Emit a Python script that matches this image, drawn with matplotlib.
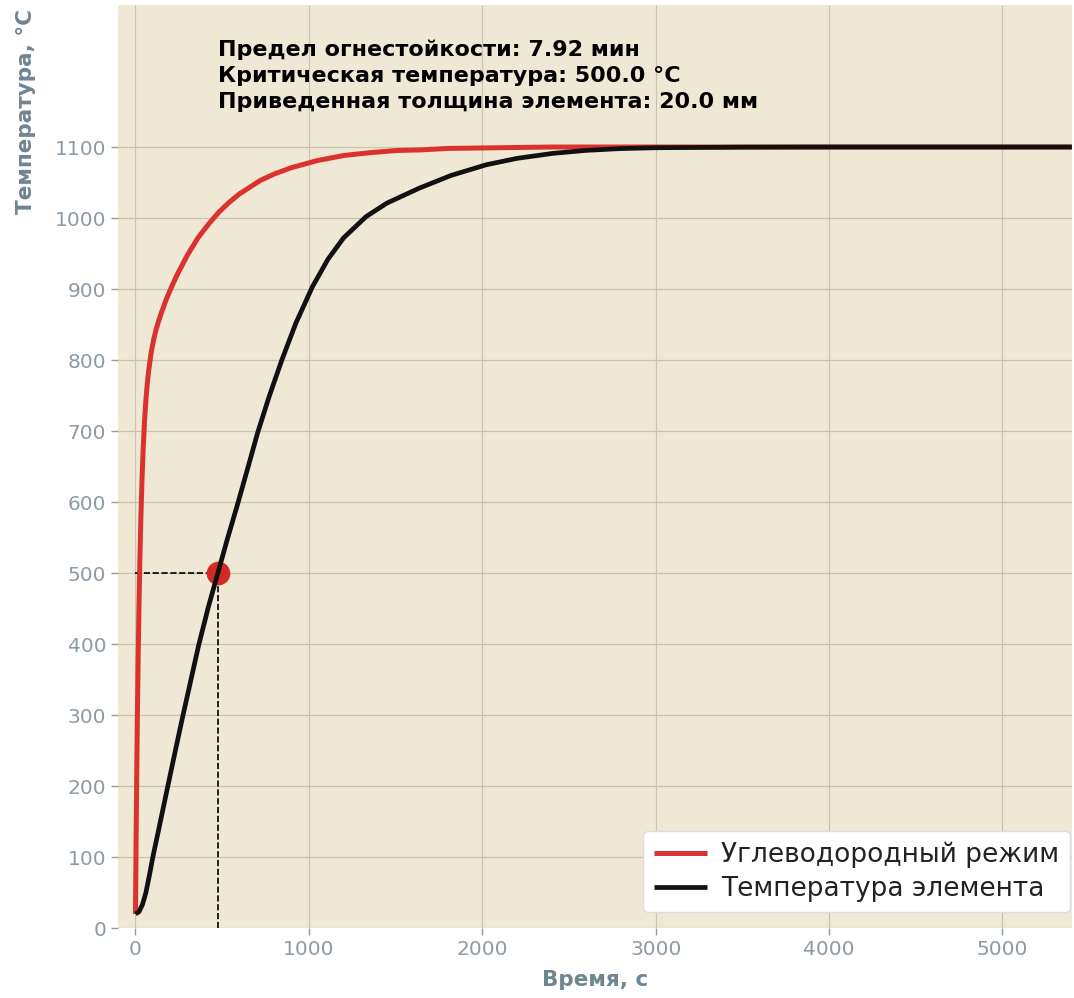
import matplotlib
matplotlib.use("Agg")
import matplotlib.pyplot as plt

# углеводородный режим пожара, время (с) и температура газа (°C)
t_fire = [0, 2.5, 5, 7.5, 10, 12.5, 15, 20, 25, 30, 37.5, 45, 52.5, 60, 67.5, 75, 90, 105,
          120, 135, 150, 180, 210, 240, 270, 300, 360, 420, 480, 540, 600, 720, 800, 900,
          1050, 1200, 1350, 1500, 1650, 1800, 2100, 2400, 3600, 5400]
T_fire = [20, 94, 162, 223, 278, 328, 373, 451, 515, 568, 631, 679, 715, 743, 765, 783, 810, 829,
          844, 856, 867, 887, 904, 920, 934, 948, 972, 991, 1008, 1022, 1034, 1053, 1062, 1071,
          1081, 1088, 1092, 1095, 1096, 1098, 1099, 1100, 1100, 1100]

# прогрев элемента
t_el = [0, 20, 40, 60, 80, 100, 140, 184, 230, 267, 320, 364, 420, 475, 530, 590, 650, 705,
        770, 844, 925, 1020, 1110, 1200, 1330, 1450, 1636, 1820, 2023, 2200, 2405, 2600,
        2800, 3000, 3500, 4000, 5400]
T_el = [20, 23, 33, 50, 74, 100, 146, 197, 250, 292, 350, 398, 452, 500, 548, 598, 650, 698,
        748, 800, 852, 903, 942, 972, 1002, 1021, 1042, 1060, 1075, 1084, 1091, 1095.3,
        1097.8, 1099, 1099.8, 1100, 1100]

t_limit = 475.2       # с
T_crit = 500.0        # °C
thickness = 20.0      # мм

plt.style.use('Solarize_Light2')
plt.rcParams['font.family'] = ['DejaVu Sans']

fig = plt.figure(figsize=(10.74, 9.98), dpi=100, facecolor='white')
ax = fig.add_axes([0.110, 0.070, 0.888, 0.925])
ax.set_facecolor('#eee8d5')

ax.plot(t_limit, T_crit, 'o', color='#d42a24', markersize=16, zorder=3)
ax.plot(t_fire, T_fire, color='#dc322f', linewidth=3.6, label='Углеводородный режим', zorder=4)
ax.plot(t_el, T_el, color='#111111', linewidth=3.4, label='Температура элемента', zorder=5)

# пунктир до критической точки
ax.plot([0, t_limit], [T_crit, T_crit], '--', color='black', linewidth=1.2, zorder=2)
ax.plot([t_limit, t_limit], [0, T_crit], '--', color='black', linewidth=1.2, zorder=2)

ax.text(t_limit, 1150,
        f"Предел огнестойкости: {t_limit / 60:.2f} мин\n"
        f"Критическая температура: {T_crit:.1f} °C\n"
        f"Приведенная толщина элемента: {thickness:.1f} мм",
        fontsize=16, fontweight='bold', color='black', ha='left', va='bottom',
        linespacing=1.36)

ax.set_xlim(-100, 5400)
ax.set_ylim(0, 1300)
ax.set_xticks([0, 1000, 2000, 3000, 4000, 5000])
ax.set_yticks(range(0, 1101, 100))
ax.grid(True, color='#c9c3b1', linewidth=0.9)
for s in ax.spines.values():
    s.set_visible(False)

ax.tick_params(axis='both', colors='#8d9ba4', labelsize=14.5, length=5, width=1)
ax.set_xlabel('Время, с', fontsize=15.5, fontweight='bold', color='#6f8591', labelpad=8)
ax.set_ylabel('Температура, °C', fontsize=15.5, fontweight='bold', color='#6f8591')
ax.yaxis.set_label_coords(-0.086, 0.885)

leg = ax.legend(loc='lower right', bbox_to_anchor=(0.998, 0.017), borderaxespad=0,
                fontsize=19, facecolor='white', framealpha=1, edgecolor='#dddddd',
                handlelength=2.0, handletextpad=0.55, labelspacing=0.3)
for txt in leg.get_texts():
    txt.set_color('#222222')

fig.savefig('out.png', dpi=100, facecolor='white')
